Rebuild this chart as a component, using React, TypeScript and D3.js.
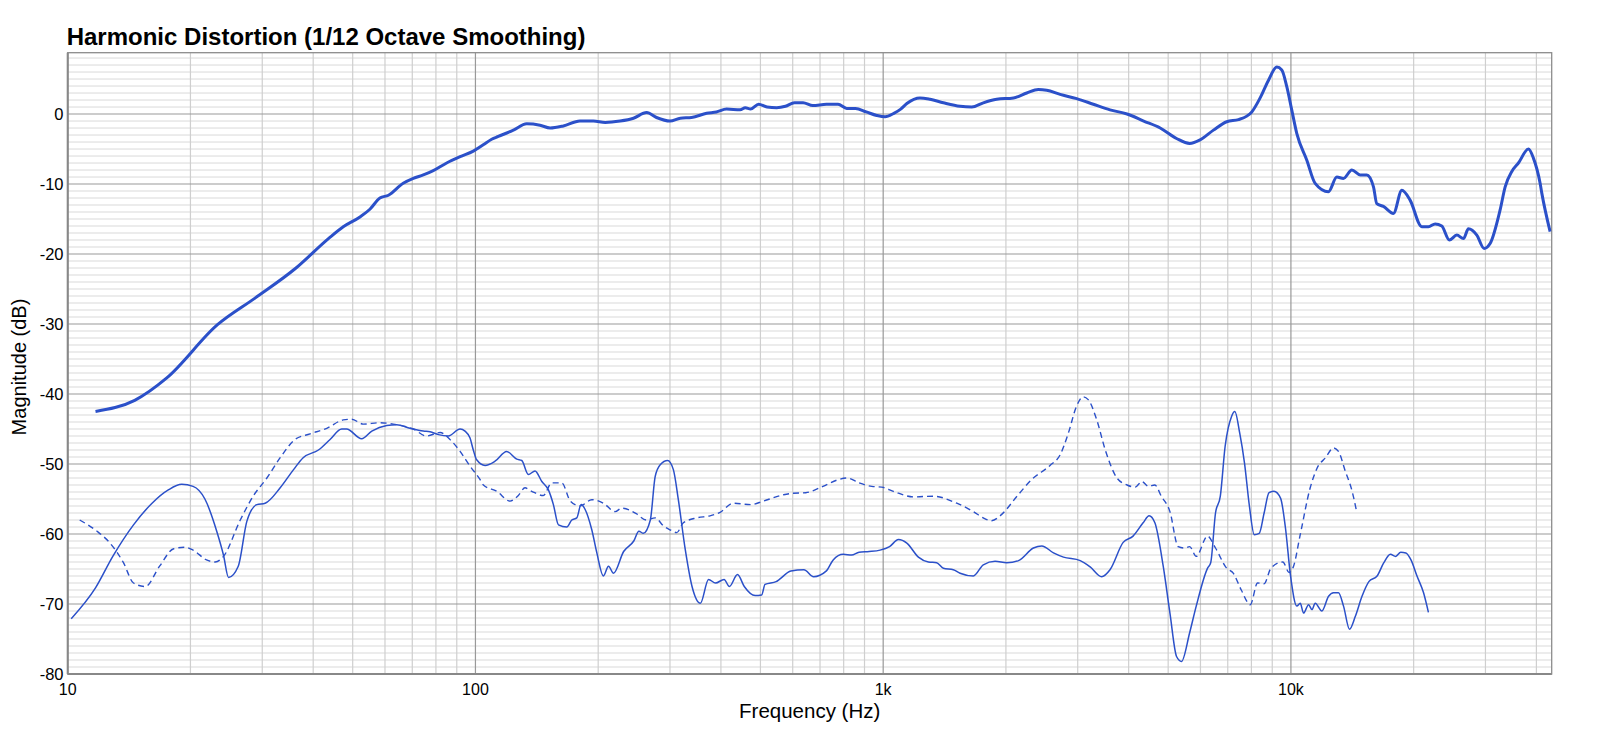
import React from "react";
import * as d3 from "d3";

const W = 1600;
const H = 734;

const fundFreq = [11.7,14.6,17.5,23.3,28.8,36.3,43.6,47.4,52.1,55.1,58.3,61.2,66.5,70.4,74.5,78.8,85,91.7,98.8,104.5,109.6,113.8,123.9,133.6,144,152.5,164.3,180.4,194.7,208.1,226.4,244.1,263,278,300,318,339,369,390,413,446,459,473,495,519,548,576,606,636,672,726,775,814,855,909,964,1011,1062,1104,1143,1231,1303,1405,1544,1649,1760,1899,2087,2250,2401,2518,2716,2982,3276,3600,3963,4355,4780,5242,5645,5987,6456,6960,7440,7795,8017,8405,8806,9234,9497,9770,10046,10340,10940,11466,12360,12960,13450,14107,14780,15350,15940,16240,16860,17840,18710,19600,20940,21740,22580,23440,24470,25520,26490,27250,28570,29770,30800,32590,33530,34820,36140,38240,39330,40850,41240,43220];
const fundDb = [-42.5,-40.9,-37.7,-30.1,-26.3,-22,-17.8,-16.1,-14.7,-13.6,-12.0,-11.6,-9.9,-9.2,-8.7,-8.1,-7.0,-6.1,-5.3,-4.4,-3.6,-3.2,-2.3,-1.4,-1.6,-2.0,-1.7,-1.0,-1.0,-1.2,-1.0,-0.6,0.2,-0.5,-1.0,-0.6,-0.5,0.1,0.3,0.7,0.6,0.9,0.7,1.4,1.0,0.9,1.1,1.6,1.6,1.2,1.4,1.4,0.8,0.8,0.3,-0.2,-0.4,0.1,0.7,1.5,2.3,2.1,1.6,1.1,1.0,1.6,2.1,2.3,3.0,3.5,3.4,2.8,2.2,1.4,0.6,0.0,-1.0,-2.0,-3.5,-4.2,-3.7,-2.3,-1.1,-0.8,-0.3,0.3,2.3,4.8,6.7,6.3,3.9,0.6,-2.8,-6.6,-9.9,-11.1,-9.0,-9.2,-8.0,-8.7,-8.7,-10.4,-12.8,-13.2,-14.2,-10.9,-12.3,-16.1,-16.1,-15.7,-16.0,-18.0,-17.3,-17.8,-16.4,-17.3,-19.2,-18.5,-13.7,-10.4,-8.2,-7.0,-5.0,-6.3,-9.9,-11.3,-16.8];

const h2Freq = [10.2,11.7,12.9,14.5,16.1,17.65,19.04,20.3,21.7,23.2,24.1,24.8,26.2,27.5,29.1,30.5,33.2,35.8,37.8,41.2,44,47,48.3,52.6,55.7,60.6,64.1,69.1,74.5,77.4,81.1,85.8,91.7,94.3,97,98.8,100.7,105.6,111.7,119.3,126.3,129.9,134.8,140,145.5,151,155.3,159.8,167.5,172.3,177.2,181.6,185.8,192.9,198.5,206,212,218.1,230.9,244.5,251.7,258.1,268.5,275.9,283.9,296.1,305.8,314.5,327,339.8,356.2,373,388,407.2,419.6,439.3,456.4,485.2,503.5,513.1,546.2,593.9,639.1,675.1,724.5,754,798.2,836.6,872.6,923.6,982.6,1036.7,1090,1143,1220,1291,1353,1405,1486,1544,1664,1760,1881,2010,2147,2336,2449,2616,2768,3043,3219,3433,3600,3878,4101,4340,4490,4638,4862,5050,5242,5391,5645,5858,6242,6357,6532,6712,6896,7152,7285,7490,7696,7910,8130,8360,8596,8838,9087,9436,9690,9980,10340,10540,10740,11050,11260,11470,11910,12370,12720,13080,13460,13920,14380,14940,15530,16270,16900,17540,18070,18590,19140,19700,20380,21150,21740];
const h2Db = [-72.1,-67.7,-63.2,-58.7,-55.6,-53.7,-52.9,-53.2,-55.0,-59.6,-63.0,-66.2,-64.6,-58.2,-55.8,-55.6,-53.4,-50.8,-49.1,-48.0,-46.5,-45.0,-45.0,-46.4,-45.3,-44.5,-44.4,-44.9,-45.3,-45.4,-45.8,-46.0,-45.0,-45.3,-46.3,-48.0,-49.4,-50.2,-49.6,-48.2,-49.3,-49.5,-51.5,-51.0,-52.5,-53.7,-55.8,-58.7,-59.0,-58.0,-57.7,-55.8,-56.5,-59.4,-62.7,-66.0,-64.6,-65.6,-62.5,-61.0,-59.6,-59.9,-58.0,-51.8,-50.1,-49.5,-50.8,-55.1,-62.2,-67.5,-69.9,-66.5,-67.0,-66.5,-67.5,-65.8,-67.5,-68.8,-68.7,-67.2,-66.8,-65.3,-65.1,-66.1,-65.3,-63.7,-62.9,-63.0,-62.6,-62.5,-62.3,-61.8,-60.8,-61.3,-63.3,-64.0,-64.1,-64.9,-65.1,-65.6,-66.0,-64.4,-63.9,-64.1,-63.8,-62.0,-61.7,-62.7,-63.3,-63.8,-64.7,-66.1,-65.1,-61.2,-60.3,-58.4,-57.4,-58.4,-64.6,-71.3,-77.5,-78.2,-74.1,-70.3,-64.9,-64.1,-57.0,-54.6,-47.5,-43.2,-42.5,-45.6,-49.9,-56.0,-60.1,-59.9,-57.0,-54.1,-53.9,-54.9,-59.0,-66.0,-70.3,-69.9,-71.3,-70.1,-70.8,-69.9,-71.0,-68.9,-68.4,-68.4,-70.3,-73.6,-71.8,-68.9,-66.8,-66.0,-64.1,-62.9,-63.2,-62.6,-62.7,-63.7,-66.0,-68.4,-71.2];

const h3Freq = [10.7,11.8,12.7,13.7,14.5,15.5,16.8,18.2,19.4,20.3,21.9,23,24.1,26.5,28.5,30.8,33.2,36.1,39.3,43.2,47.4,49.7,53.1,58.3,62.9,70.4,75.9,81.9,86.6,91.7,97,102.6,104.6,112.8,121.6,127.4,132.3,137.4,146.7,153.8,162.9,170.9,180.4,192.9,206,220.1,228.5,248,262.4,275.9,289.8,300.1,311.6,323.6,348.9,376,398.2,428.9,474.2,508.1,569.6,597.3,645.8,711.6,769.7,816.5,872.6,937.8,992,1059,1186,1327,1515,1664,1760,1845,1953,2129,2315,2566,2716,2845,2978,3093,3183,3341,3505,3744,3963,4152,4310,4476,4638,4810,5050,5290,5490,5645,5858,6242,6532,6960,7220,7556,7950,8282,8596,8930,9552,9900,10150,10540,11150,11590,12160,12720,13080,13590,14130,14460];
const h3Db = [-58.0,-59.6,-61.3,-64.1,-67.0,-67.5,-64.6,-62.1,-61.9,-62.3,-63.7,-64.0,-63.2,-58.0,-54.6,-52.0,-49.1,-46.5,-45.7,-44.9,-43.7,-43.6,-44.3,-44.1,-44.3,-45.0,-46.0,-45.5,-46.5,-48.2,-50.3,-52.2,-53.0,-53.9,-55.3,-54.5,-53.4,-53.9,-54.5,-52.7,-52.7,-55.3,-56.0,-55.1,-55.6,-56.8,-56.3,-57.1,-58.0,-57.7,-58.9,-59.4,-59.8,-58.4,-57.7,-57.4,-56.9,-55.6,-55.8,-55.3,-54.4,-54.2,-54.1,-53.2,-52.3,-52.0,-52.7,-53.2,-53.3,-53.9,-54.7,-54.6,-55.6,-56.8,-57.7,-58.1,-57.2,-54.6,-52.2,-50.2,-48.7,-45.6,-41.8,-40.4,-40.8,-43.7,-48.0,-52.0,-53.0,-53.3,-52.5,-53.2,-53.0,-54.6,-56.8,-61.8,-62.0,-61.8,-63.2,-60.3,-62.0,-64.9,-65.6,-68.0,-70.1,-67.0,-67.1,-64.9,-64.0,-65.5,-64.6,-60.1,-53.4,-50.6,-49.1,-47.7,-48.2,-51.0,-53.9,-56.5];

const xTickValues = [10, 100, 1000, 10000];
const xTickLabels = ["10", "100", "1k", "10k"];
const yTickValues = [0, -10, -20, -30, -40, -50, -60, -70, -80];

const title = "Harmonic Distortion (1/12 Octave Smoothing)";
const xTitle = "Frequency (Hz)";
const yTitle = "Magnitude (dB)";

const LEFT = 67.7;
const RIGHT = 1551.7;
const TOP = 52.7;
const BOTTOM = 674;
const FONT = "'Liberation Sans', Arial, Helvetica, sans-serif";
const BLUE = "#2b50c9";

export default function App() {
  const x = d3.scaleLog().domain([10, 43610]).range([LEFT, RIGHT]);
  const y = d3.scaleLinear().domain([-80, 8.76]).range([BOTTOM, TOP]);

  const zip = (f: number[], v: number[]) => f.map((ff, i) => [ff, v[i]] as [number, number]);

  const curveLine = d3
    .line<[number, number]>()
    .x((d) => x(d[0]))
    .y((d) => y(d[1]))
    .curve(d3.curveMonotoneX);

  const minorX: number[] = [];
  for (let dec = 10; dec <= 10000; dec *= 10) {
    for (let k = 2; k <= 9; k++) {
      const v = dec * k;
      if (v < 43610) minorX.push(v);
    }
  }
  const minorY: number[] = [];
  for (let v = -79; v <= 8; v++) if (v % 10 !== 0) minorY.push(v);

  return (
    <svg
      width={W}
      height={H}
      style={{ position: "absolute", left: 0, top: 0, background: "#fff" }}
      fontFamily={FONT}
    >
      <defs>
        <clipPath id="plotclip">
          <rect x={LEFT} y={TOP} width={RIGHT - LEFT} height={BOTTOM - TOP} />
        </clipPath>
      </defs>
      <rect x={0} y={0} width={W} height={H} fill="#fff" />
      <text x={LEFT - 1} y={45} fontSize={24} fontWeight="bold" fill="#000">
        {title}
      </text>
      {minorY.map((v) => (
        <line key={"my" + v} x1={LEFT} x2={RIGHT} y1={y(v)} y2={y(v)} stroke="#d9d9d9" strokeWidth={1} />
      ))}
      {minorX.map((v) => (
        <line key={"mx" + v} x1={x(v)} x2={x(v)} y1={TOP} y2={BOTTOM} stroke="#cfcfcf" strokeWidth={1.2} />
      ))}
      {yTickValues.map((v) => (
        <line key={"Y" + v} x1={LEFT} x2={RIGHT} y1={y(v)} y2={y(v)} stroke="#999" strokeWidth={1.2} />
      ))}
      {xTickValues.map((v) => (
        <line key={"X" + v} x1={x(v)} x2={x(v)} y1={TOP} y2={BOTTOM} stroke="#999" strokeWidth={1.2} />
      ))}
      <rect x={LEFT} y={TOP} width={RIGHT - LEFT} height={BOTTOM - TOP} fill="none" stroke="#8c8c8c" strokeWidth={1.3} />
      <line x1={LEFT} x2={RIGHT} y1={BOTTOM} y2={BOTTOM} stroke="#888" strokeWidth={2.2} />
      <line x1={LEFT} x2={LEFT} y1={TOP} y2={BOTTOM} stroke="#888" strokeWidth={2} />

      <g clipPath="url(#plotclip)" fill="none" stroke={BLUE} strokeLinejoin="round">
        <path d={curveLine(zip(h3Freq, h3Db)) || ""} strokeWidth={1.4} strokeDasharray="6,4" />
        <path d={curveLine(zip(h2Freq, h2Db)) || ""} strokeWidth={1.5} />
        <path d={curveLine(zip(fundFreq, fundDb)) || ""} strokeWidth={3} />
      </g>

      {yTickValues.map((v) => (
        <text key={"yl" + v} x={63.5} y={y(v)} dy="0.36em" textAnchor="end" fontSize={16.5} fill="#000">
          {v}
        </text>
      ))}
      {xTickValues.map((v, i) => (
        <text key={"xl" + v} x={x(v)} y={695} textAnchor="middle" fontSize={16} fill="#000">
          {xTickLabels[i]}
        </text>
      ))}
      <text x={(LEFT + RIGHT) / 2} y={718} textAnchor="middle" fontSize={20.5} fill="#000">
        {xTitle}
      </text>
      <text
        transform={`translate(26, 367) rotate(-90)`}
        textAnchor="middle"
        fontSize={20}
        fill="#000"
      >
        {yTitle}
      </text>
    </svg>
  );
}
